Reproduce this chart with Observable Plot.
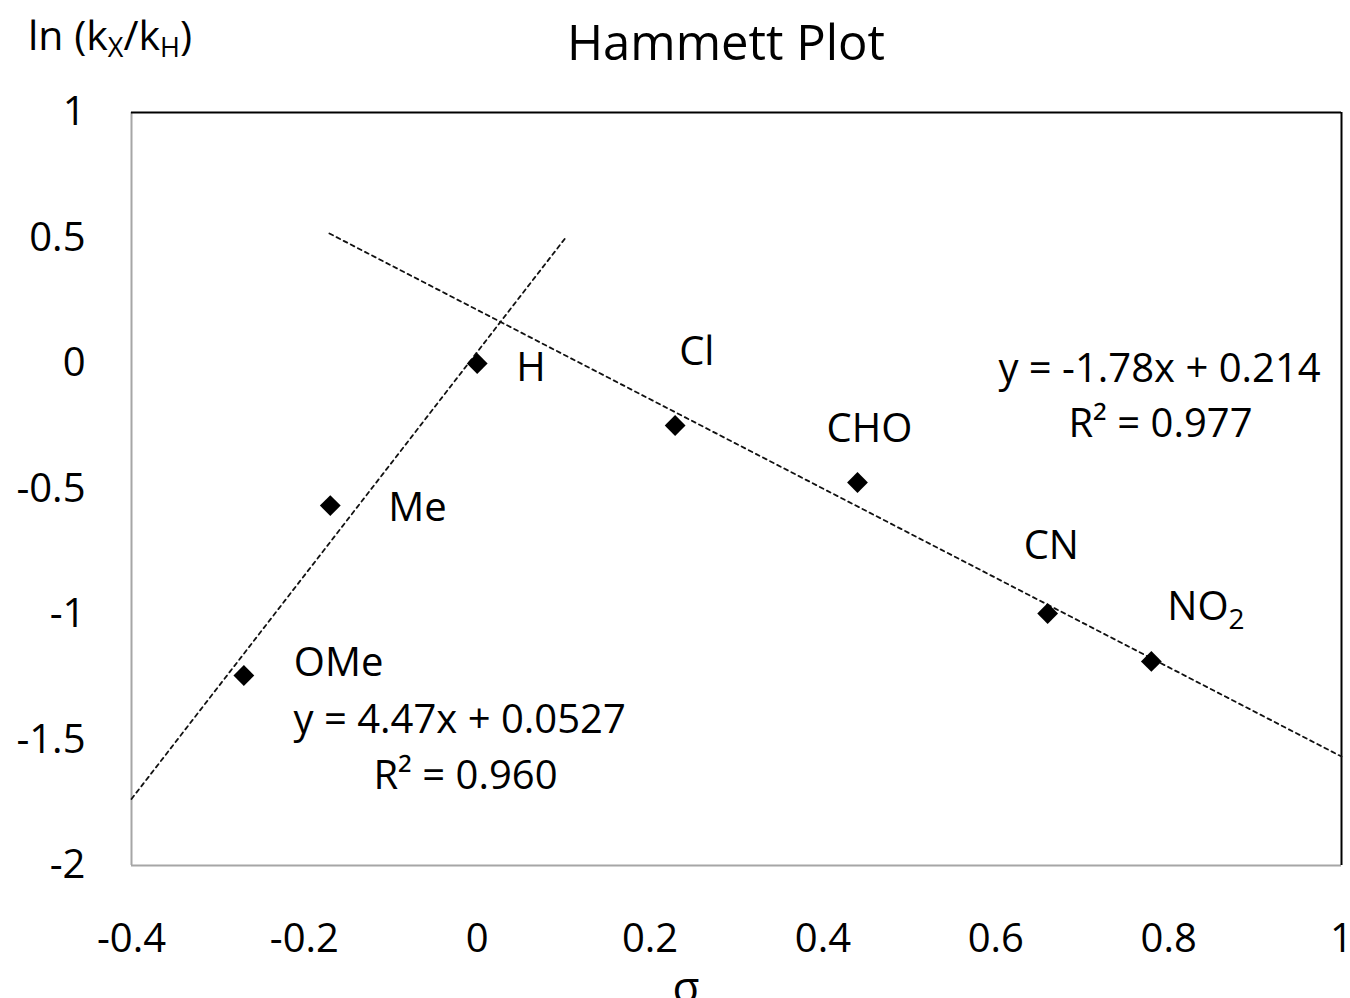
<!DOCTYPE html>
<html>
<head>
<meta charset="utf-8">
<script src="https://cdn.jsdelivr.net/npm/d3@7"></script>
<script src="https://cdn.jsdelivr.net/npm/@observablehq/plot@0.6"></script>
<style>
  html, body { margin: 0; padding: 0; background: #fff; overflow: hidden; }
  #wrap { position: relative; width: 1350px; height: 998px; overflow: hidden; font-family: "Open Sans", sans-serif; color: #000; }
  .ov { position: absolute; white-space: nowrap; line-height: 1; }
  #title { left: 0; width: 1452px; text-align: center; top: 17px; font-size: 49px; }
  #ylab { left: 28px; top: 14px; font-size: 41px; }
  #ylab sub { font-size: 27px; vertical-align: -7px; }
  #xlab { left: 0; width: 1372px; text-align: center; top: 964px; font-size: 44px; }
</style>
</head>
<body>
<div id="wrap">
  <div id="chart"></div>
  <div class="ov" id="title">Hammett Plot</div>
  <div class="ov" id="ylab">ln (k<sub>X</sub>/k<sub>H</sub>)</div>
  <div class="ov" id="xlab">σ</div>
</div>
<script>
// Substituents, Hammett sigma values and ln(kX/kH)
const substituents = ["OMe", "Me", "H", "Cl", "CHO", "CN", "NO2"];
const sigma = [-0.27, -0.17, 0, 0.229, 0.44, 0.66, 0.78];
const lnRatio = [-1.243, -0.566, 0, -0.247, -0.474, -0.996, -1.187];

// Trendline end points
const leftFitX = [-0.4, 0.102];
const leftFitY = [-1.735, 0.5];
const rightFitX = [-0.171, 1];
const rightFitY = [0.518, -1.566];

// Equation texts
const leftEq = ["y = 4.47x + 0.0527", "R² = 0.960"];
const rightEq = ["y = -1.78x + 0.214", "R² = 0.977"];

// Tick values
const xTicks = [-0.4, -0.2, 0, 0.2, 0.4, 0.6, 0.8, 1];
const yTicks = [1, 0.5, 0, -0.5, -1, -1.5, -2];

const points = substituents.map((s, i) => ({name: s, x: sigma[i], y: lnRatio[i]}));
const leftLine = leftFitX.map((x, i) => ({x, y: leftFitY[i]}));
const rightLine = rightFitX.map((x, i) => ({x, y: rightFitY[i]}));

// label placement (style, in pixels relative to each point)
const labelOffsets = {
  OMe: [50, -12], Me: [58, 3], H: [39, 5], Cl: [4, -73],
  CHO: [-31, -53], CN: [-24, -67], NO2: [16, -54]
};

const fs = 40;
const labelMarks = points.map(p => Plot.text([p], {
  x: "x", y: "y", text: "name", textAnchor: "start",
  dx: labelOffsets[p.name][0], dy: labelOffsets[p.name][1],
  fontSize: fs, fill: "#000"
}));

const eqOpts = {frameAnchor: "top-left", lineAnchor: "middle", fontSize: fs};

const chart = Plot.plot({
  width: 1350,
  height: 998,
  marginLeft: 131,
  marginRight: 9,
  marginTop: 112,
  marginBottom: 133,
  style: {fontFamily: "'Open Sans', sans-serif", fontSize: fs + "px", color: "#000", background: "#fff"},
  x: {domain: [-0.4, 1]},
  y: {domain: [-2, 1]},
  marks: [
    Plot.axisX({ticks: xTicks, tickSize: 0, tickPadding: 58, tickFormat: d => String(d), label: null, fontSize: fs}),
    Plot.axisY({ticks: yTicks, tickSize: 0, tickPadding: 46, tickFormat: d => String(d), label: null, fontSize: fs}),
    Plot.ruleX([-0.4], {stroke: "#a6a6a6", strokeWidth: 2}),
    Plot.ruleY([-2], {stroke: "#a6a6a6", strokeWidth: 2}),
    Plot.ruleY([1], {stroke: "#000", strokeWidth: 2}),
    Plot.ruleX([1], {stroke: "#000", strokeWidth: 2}),
    Plot.line(leftLine, {x: "x", y: "y", stroke: "#111", strokeWidth: 1.8, strokeDasharray: "4,4"}),
    Plot.line(rightLine, {x: "x", y: "y", stroke: "#111", strokeWidth: 1.8, strokeDasharray: "4,4"}),
    Plot.dot(points, {x: "x", y: "y", symbol: "square", rotate: 45, r: 8.3, fill: "#000", stroke: "none"}),
    ...labelMarks,
    Plot.text([leftEq[0]], {...eqOpts, textAnchor: "start", dx: 162, dy: 608}),
    Plot.text([leftEq[1]], {...eqOpts, textAnchor: "middle", dx: 334, dy: 664}),
    Plot.text([rightEq[0]], {...eqOpts, textAnchor: "middle", dx: 1028, dy: 257}),
    Plot.text([rightEq[1]], {...eqOpts, textAnchor: "middle", dx: 1029, dy: 312})
  ]
});
document.getElementById("chart").appendChild(chart);

// subscript in NO2
d3.select(chart).selectAll("text").filter(function() { return this.textContent === "NO2"; })
  .each(function() {
    const t = d3.select(this);
    t.text("NO");
    t.append("tspan").attr("dy", "0.3em").attr("font-size", "28px").text("2");
  });
</script>
</body>
</html>
